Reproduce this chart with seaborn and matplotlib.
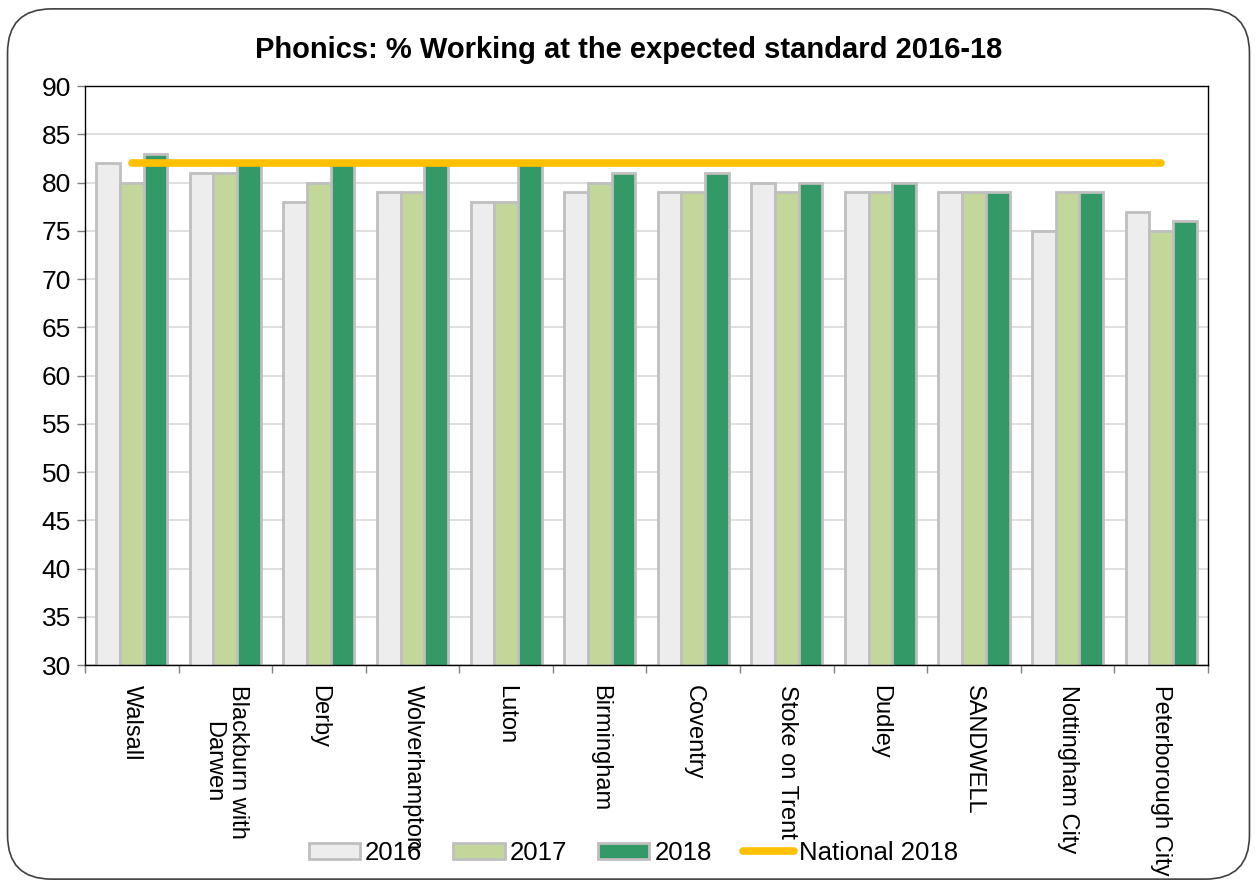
import matplotlib
matplotlib.use("Agg")
import matplotlib.pyplot as plt
import seaborn as sns
import pandas as pd
from matplotlib.patches import FancyBboxPatch, Patch
from matplotlib.lines import Line2D

categories = ["Walsall", "Blackburn with\nDarwen", "Derby", "Wolverhampton", "Luton",
              "Birmingham", "Coventry", "Stoke on Trent", "Dudley", "SANDWELL",
              "Nottingham City", "Peterborough City"]
v2016 = [82, 81, 78, 79, 78, 79, 79, 80, 79, 79, 75, 77]
v2017 = [80, 81, 80, 79, 78, 80, 79, 79, 79, 79, 79, 75]
v2018 = [83, 82, 82, 82, 82, 81, 81, 80, 80, 79, 79, 76]
national_2018 = [82] * len(categories)
years = ["2016", "2017", "2018"]
colors = ["#EDEDED", "#C4D79B", "#339966"]
line_color = "#FFC000"
title = "Phonics: % Working at the expected standard 2016-18"

sns.set_theme(style="white", rc={"text.color": "black", "xtick.color": "black",
                                 "ytick.color": "black", "axes.labelcolor": "black"})
plt.rcParams["font.family"] = ["Liberation Sans", "DejaVu Sans"]

df = pd.DataFrame({
    "area": categories * 3,
    "year": [y for y in years for _ in categories],
    "value": v2016 + v2017 + v2018,
})

fig = plt.figure(figsize=(12.57, 8.88), dpi=100)
ax = fig.add_axes([0.0676, 0.251, 0.8934, 0.652])

sns.barplot(data=df, x="area", y="value", hue="year", palette=colors,
            order=categories, hue_order=years, width=0.76, saturation=1,
            edgecolor="#BFBFBF", linewidth=2, ax=ax, legend=False, zorder=2)

ax.plot(range(len(categories)), national_2018, color=line_color, lw=5.5,
        solid_capstyle="round", zorder=5)

ax.set_ylim(30, 90)
ax.set_yticks(range(30, 91, 5))
ax.set_xlim(-0.5, len(categories) - 0.5)
ax.yaxis.grid(True, color="#D9D9D9", lw=1.2, zorder=0)
ax.set_axisbelow(True)
ax.set_xlabel("")
ax.set_ylabel("")
for s in ax.spines.values():
    s.set_visible(True)
    s.set_color("black")
    s.set_linewidth(1)

ax.tick_params(axis="y", labelsize=19, length=6, width=1, color="#808080",
               left=True, direction="out", pad=4)
ax.set_xticks(range(len(categories)))
ax.set_xticklabels(categories, rotation=270, va="top", ha="center",
                   fontsize=17, multialignment="center")
ax.tick_params(axis="x", length=0, pad=14)
ax.set_xticks([i - 0.5 for i in range(len(categories) + 1)], minor=True)
ax.tick_params(axis="x", which="minor", length=6, width=1, color="#808080",
               bottom=True, direction="out")

fig.suptitle(title, fontsize=21, fontweight="bold", x=0.5, y=1 - 50 / 888,
             va="center")

handles = [Patch(facecolor=c, edgecolor="#BFBFBF", linewidth=2) for c in colors]
handles.append(Line2D([0], [0], color=line_color, lw=5.5, solid_capstyle="round"))
fig.legend(handles, years + ["National 2018"], loc="center",
           bbox_to_anchor=(0.504, 0.0394), ncol=4, frameon=False, fontsize=18.5,
           handlelength=2.0, handleheight=0.6, handletextpad=0.2,
           columnspacing=1.2, borderaxespad=0, borderpad=0)

border = FancyBboxPatch((0.006, 0.01), 0.988, 0.98,
                        boxstyle="round,pad=0,rounding_size=0.035",
                        transform=fig.transFigure, fill=False,
                        edgecolor="#404040", lw=1.2, mutation_aspect=1257/888)
fig.patches.append(border)

fig.savefig("out.png", dpi=100)
